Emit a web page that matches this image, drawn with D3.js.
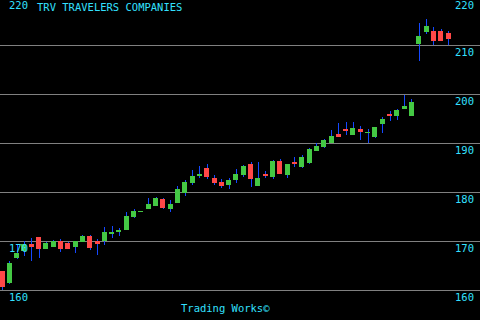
<!DOCTYPE html>
<html>
<head>
<meta charset="utf-8">
<script src="https://cdn.jsdelivr.net/npm/d3@7"></script>
<style>
  html, body { margin: 0; padding: 0; background: #000; }
  svg { display: block; }
  text { font-family: "DejaVu Sans Mono", "Liberation Mono", monospace; font-size: 10.5px; fill: #33e0ff; }
</style>
</head>
<body>
<div id="chart"></div>
<script>
// daily candles, TRV
const open = [163.88, 161.43, 166.53, 167.96, 169.39, 170.82, 168.37, 168.78, 170.00, 169.59,
  168.78, 169.80, 171.02, 170.00, 170.00, 171.43, 171.84, 172.24, 174.90, 175.92,
  176.53, 177.14, 178.57, 176.53, 177.76, 179.80, 181.84, 183.27, 184.90, 182.86,
  182.04, 181.43, 182.45, 183.47, 185.71, 181.22, 183.67, 183.06, 186.33, 183.47,
  186.12, 185.10, 185.92, 188.37, 189.18, 190.00, 191.84, 192.86, 191.63, 192.86,
  192.04, 191.22, 193.88, 195.92, 195.51, 196.94, 195.51, 210.20, 212.65, 212.86,
  212.86, 212.45];
const close = [160.61, 165.51, 167.55, 169.39, 168.78, 168.37, 169.59, 170.00, 168.37, 168.37,
  170.00, 171.02, 168.57, 169.39, 171.84, 171.84, 172.24, 175.10, 176.12, 176.12,
  177.55, 178.78, 176.73, 177.55, 180.61, 182.04, 183.27, 183.67, 183.06, 181.84,
  181.22, 182.45, 183.67, 185.31, 182.65, 182.86, 183.27, 186.33, 183.67, 185.71,
  185.71, 187.14, 188.78, 189.39, 190.61, 191.43, 191.22, 192.45, 193.06, 192.24,
  192.24, 193.27, 194.90, 195.51, 196.73, 197.55, 198.37, 211.84, 213.88, 210.82,
  210.82, 211.22];
const high = [163.88, 165.92, 169.39, 170.00, 170.61, 170.82, 169.70, 170.20, 170.41, 169.80,
  170.10, 171.22, 171.22, 170.41, 172.86, 173.06, 172.65, 175.92, 176.53, 176.20,
  178.78, 178.98, 178.78, 178.37, 181.22, 182.45, 184.49, 185.31, 185.71, 183.47,
  182.65, 182.86, 184.69, 185.51, 186.12, 186.12, 184.29, 186.53, 186.73, 185.80,
  187.14, 187.55, 188.90, 190.00, 190.82, 192.65, 194.08, 194.29, 194.29, 193.47,
  192.86, 193.30, 195.31, 196.53, 196.94, 199.80, 198.98, 214.49, 215.31, 213.67,
  213.27, 212.86];
const low = [160.00, 161.30, 166.40, 166.94, 165.92, 166.53, 168.30, 168.70, 167.76, 168.30,
  167.55, 169.70, 168.16, 167.14, 169.18, 170.61, 171.02, 172.20, 174.69, 175.90,
  176.50, 177.10, 176.53, 175.92, 177.70, 179.18, 181.43, 182.86, 182.65, 181.43,
  180.82, 180.61, 181.84, 183.06, 181.02, 181.20, 182.86, 182.65, 183.60, 182.86,
  185.10, 185.00, 185.80, 188.30, 188.98, 189.90, 191.20, 191.63, 191.60, 190.61,
  190.00, 191.02, 192.04, 194.49, 194.69, 196.90, 195.50, 206.73, 212.24, 210.00,
  210.80, 210.00];

const gridValues = [160, 170, 180, 190, 200, 210, 220];
const rightLabels = [160, 170, 180, 190, 200, 210, 220];
const leftLabels = [160, 170, 220];
const title = 'TRV TRAVELERS COMPANIES';
const footer = 'Trading Works\u00a9';

const width = 480, height = 320;

const candles = open.map((o, i) => ({ i: i, o: o, c: close[i], h: high[i], l: low[i] }));

const x = d3.scalePoint().domain(d3.range(candles.length)).range([2, 448]);
const y = d3.scaleLinear().domain([160, 220]).range([290, -4]);

// label sits just under its grid line, kept inside the top edge
const labelY = d => Math.max(9, y(d) + 11);

const svg = d3.select('#chart').append('svg')
  .attr('width', width)
  .attr('height', height);

svg.append('rect').attr('width', width).attr('height', height).attr('fill', '#000');

// grid
svg.append('g').selectAll('line')
  .data(gridValues)
  .enter().append('line')
  .attr('x1', 0).attr('x2', width)
  .attr('y1', d => Math.round(y(d)) + 0.5)
  .attr('y2', d => Math.round(y(d)) + 0.5)
  .attr('stroke', '#808080')
  .attr('stroke-width', 1);

// candles
const g = svg.append('g').attr('shape-rendering', 'crispEdges');
const bodyW = 5;

g.selectAll('.wick')
  .data(candles)
  .enter().append('rect')
  .attr('class', 'wick')
  .attr('x', d => Math.round(x(d.i)))
  .attr('width', 1)
  .attr('y', d => Math.round(y(d.h)))
  .attr('height', d => Math.max(1, Math.round(y(d.l)) - Math.round(y(d.h))))
  .attr('fill', '#1448ff');

g.selectAll('.body')
  .data(candles)
  .enter().append('rect')
  .attr('class', 'body')
  .attr('x', d => Math.round(x(d.i) - bodyW / 2))
  .attr('width', bodyW)
  .attr('y', d => Math.round(y(Math.max(d.o, d.c))))
  .attr('height', d => Math.max(1, Math.round(y(Math.min(d.o, d.c))) - Math.round(y(Math.max(d.o, d.c)))))
  .attr('fill', d => d.c >= d.o ? '#44c844' : '#ff4848');

// labels
svg.append('g').selectAll('text')
  .data(rightLabels)
  .enter().append('text')
  .attr('x', 474)
  .attr('y', labelY)
  .attr('text-anchor', 'end')
  .text(d => d);

svg.append('g').selectAll('text')
  .data(leftLabels)
  .enter().append('text')
  .attr('x', 9)
  .attr('y', labelY)
  .text(d => d);

svg.append('text').attr('x', 37).attr('y', 11).text(title);
svg.append('text').attr('x', 181).attr('y', 312).text(footer);
</script>
</body>
</html>
